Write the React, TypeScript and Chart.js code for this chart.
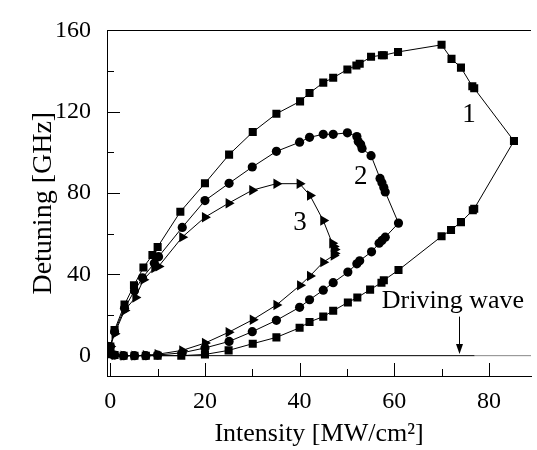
import React, { useEffect, useRef } from "react";
import { Chart, registerables } from "chart.js";

Chart.register(...registerables);

// Series 1 (squares)
const s1X = [0, 0, 0.9, 3.0, 5.0, 7.0, 8.9, 10.0, 14.8, 20.0, 25.1, 30.1, 35.1, 40.1, 42.1, 45.0, 47.1, 50.1, 52.0, 52.7, 55.1, 57.4, 57.8, 60.8, 70.0, 72.1, 74.1, 76.5, 76.9, 85.3, 76.9, 76.6, 74.1, 72.0, 70.0, 60.9, 57.8, 57.3, 54.9, 52.2, 50.2, 47.1, 45.0, 42.1, 40.0, 35.1, 30.1, 25.0, 20.0, 15.0, 10.0, 7.5, 5.1, 2.8, 0.9, 0];
const s1Y = [1, 4.5, 12.6, 25.1, 34.6, 43.4, 49.5, 53.5, 70.8, 84.8, 98.9, 110, 119, 125.1, 129.2, 134.3, 136.7, 140.8, 142.7, 143.6, 147, 147.8, 147.8, 149.4, 152.9, 146, 141.7, 132.5, 131.5, 105.6, 72.3, 71.5, 65.7, 61.8, 58.7, 42.1, 37.1, 35.9, 32.5, 28.6, 26.2, 22.1, 19.2, 16.6, 13.7, 9.0, 5.9, 2.6, 0.6, 0, 0, 0, 0, 0, 0.3, 1];

// Series 2 (circles)
const s2X = [0, 0, 0.9, 3.0, 5.1, 6.8, 9.3, 10.2, 15.2, 20.0, 25.1, 30.0, 35.1, 40.0, 42.1, 45.0, 47.1, 50.1, 52.1, 52.4, 52.9, 53.2, 55.1, 57.0, 57.4, 57.8, 58.1, 60.9, 58.1, 57.4, 56.8, 55.2, 52.7, 52.1, 50.2, 47.1, 45.0, 42.1, 40.0, 35.1, 30.0, 25.1, 20.0, 15.2, 10.0, 7.5, 5.1, 2.8, 0.9, 0];
const s2Y = [1, 4.5, 11.8, 23.3, 31.9, 38.3, 45.5, 48.7, 63.1, 76.3, 84.8, 92.8, 100.5, 105.0, 107.4, 108.9, 108.9, 109.6, 107.8, 105.4, 104, 101.9, 98.4, 87.2, 85.1, 82.7, 80.5, 65.2, 58.3, 56.7, 55.3, 51.1, 46.7, 45.2, 41.1, 35.9, 32.2, 27.5, 23.8, 17.4, 11.8, 7.0, 3.8, 1.4, 0.3, 0, 0, 0, 0.3, 1];

// Series 3 (triangles)
const s3X = [0, 0, 0.9, 3.0, 5.3, 7.0, 9.3, 10.2, 15.2, 20.0, 25.0, 30.0, 35.1, 40.0, 42.2, 45.0, 46.9, 47.2, 47.4, 47.4, 47.2, 45.0, 42.2, 40.1, 35.1, 30.1, 25.0, 20.0, 15.2, 10.0, 7.5, 5.1, 2.8, 0.9, 0];
const s3Y = [1, 4.5, 10.8, 22.2, 28.6, 37.4, 43.1, 43.9, 58.3, 68.1, 75.0, 81.4, 84.6, 84.6, 78.8, 66.5, 55.3, 53.7, 52.2, 50.3, 49.3, 46.0, 39.2, 34.6, 24.9, 17.7, 11.5, 6.2, 2.6, 0.7, 0.2, 0, 0, 0.3, 1];

// Driving wave (horizontal line at zero)
const driveX = [-0.7, 77, 88.9];
const driveY = [0, 0, 0];

// Axes
const xTicks = [0, 10, 20, 30, 40, 50, 60, 70, 80];
const yTicks = [0, 20, 40, 60, 80, 100, 120, 140, 160];
const xLabelStep = 20;
const yLabelStep = 40;

// Annotations (data coordinates)
const curveNames = ["1", "2", "3"];
const curveNameX = [75.8, 52.9, 40.1];
const curveNameY = [114.9, 84.5, 61.6];
const driveText = "Driving wave";
const driveTextX = 72.4;
const driveTextY = 23.5;
const arrowX = 73.7;
const arrowY = [19.2, 0.8];

const FONT = "'Liberation Serif', 'Times New Roman', serif";

const toPts = (xs: number[], ys: number[]) => xs.map((x, i) => ({ x, y: ys[i] }));

const framePlugin = {
  id: "frameAndNotes",
  afterDraw(chart: any) {
    const { ctx, chartArea: a, scales } = chart;
    const xs = scales.x;
    const ys = scales.y;
    ctx.save();
    ctx.strokeStyle = "#000";
    ctx.lineWidth = 1;
    ctx.beginPath();
    // top frame
    ctx.moveTo(a.left, Math.round(a.top) + 0.5);
    ctx.lineTo(a.right, Math.round(a.top) + 0.5);
    // inward ticks
    ys.ticks.forEach((t: any) => {
      const py = Math.round(ys.getPixelForValue(t.value)) + 0.5;
      const len = t.value % yLabelStep === 0 ? 13 : 7;
      ctx.moveTo(a.left, py);
      ctx.lineTo(a.left + len, py);
    });
    xs.ticks.forEach((t: any) => {
      const px = Math.round(xs.getPixelForValue(t.value)) + 0.5;
      const len = t.value % xLabelStep === 0 ? 13 : 7;
      ctx.moveTo(px, a.bottom);
      ctx.lineTo(px, a.bottom - len);
    });
    ctx.stroke();

    // arrow
    const ax = Math.round(xs.getPixelForValue(arrowX)) + 0.5;
    const ay0 = ys.getPixelForValue(arrowY[0]);
    const ay1 = ys.getPixelForValue(arrowY[1]);
    ctx.beginPath();
    ctx.moveTo(ax, ay0);
    ctx.lineTo(ax, ay1 - 8);
    ctx.stroke();
    ctx.fillStyle = "#000";
    ctx.beginPath();
    ctx.moveTo(ax, ay1);
    ctx.lineTo(ax - 3.5, ay1 - 10);
    ctx.lineTo(ax + 3.5, ay1 - 10);
    ctx.closePath();
    ctx.fill();

    // texts
    ctx.fillStyle = "#000";
    ctx.textAlign = "center";
    ctx.textBaseline = "alphabetic";
    ctx.font = `27px ${FONT}`;
    curveNames.forEach((n, i) => {
      ctx.fillText(n, xs.getPixelForValue(curveNameX[i]), ys.getPixelForValue(curveNameY[i]));
    });
    ctx.font = `26px ${FONT}`;
    ctx.fillText(driveText, xs.getPixelForValue(driveTextX), ys.getPixelForValue(driveTextY));
    ctx.restore();
  },
};

export default function App() {
  const ref = useRef<HTMLCanvasElement | null>(null);
  useEffect(() => {
    if (!ref.current) return;
    Chart.defaults.font.family = FONT;
    Chart.defaults.color = "#000";
    const common = {
      showLine: true,
      borderColor: "#000",
      backgroundColor: "#000",
      borderWidth: 1,
      pointBorderWidth: 0,
      pointBackgroundColor: "#000",
    };
    const chart = new Chart(ref.current, {
      type: "scatter",
      data: {
        datasets: [
          {
            ...common,
            label: "drive",
            data: toPts(driveX, driveY),
            pointRadius: 0,
            segment: {
              borderColor: (c: any) => (c.p0.parsed.x >= 77 ? "#888" : "#000"),
            },
          } as any,
          { ...common, label: "1", data: toPts(s1X, s1Y), pointStyle: "rect", pointRadius: 5.7 },
          { ...common, label: "2", data: toPts(s2X, s2Y), pointStyle: "circle", pointRadius: 4.6 },
          { ...common, label: "3", data: toPts(s3X, s3Y), pointStyle: "triangle", pointRotation: 90, pointRadius: 6 },
        ],
      },
      options: {
        animation: false,
        responsive: true,
        maintainAspectRatio: false,
        layout: { padding: { top: 22, right: 0, left: 0, bottom: 0 } },
        plugins: { legend: { display: false }, tooltip: { enabled: false } },
        scales: {
          x: {
            type: "linear",
            min: -0.7,
            max: 88.9,
            afterBuildTicks: (s: any) => {
              s.ticks = xTicks.map((v) => ({ value: v }));
            },
            afterFit: (s: any) => {
              s.height = 74;
            },
            grid: { display: false, drawTicks: false },
            border: { display: true, color: "#000", width: 1 },
            ticks: {
              font: { size: 24 },
              color: "#000",
              padding: 11,
              maxRotation: 0,
              autoSkip: false,
              callback: (v: any) => (Number(v) % xLabelStep === 0 ? String(v) : ""),
            },
            title: {
              display: true,
              text: "Intensity [MW/cm²]",
              font: { size: 26 },
              color: "#000",
              padding: { top: 0, bottom: 0 },
            },
          },
          y: {
            type: "linear",
            min: -10,
            max: 160,
            afterBuildTicks: (s: any) => {
              s.ticks = yTicks.map((v) => ({ value: v }));
            },
            afterFit: (s: any) => {
              s.width = 107;
            },
            grid: { display: false, drawTicks: false },
            border: { display: true, color: "#000", width: 1 },
            ticks: {
              font: { size: 24 },
              color: "#000",
              padding: 16,
              autoSkip: false,
              callback: (v: any) => (Number(v) % yLabelStep === 0 ? String(v) : ""),
            },
            title: {
              display: true,
              text: "Detuning [GHz]",
              font: { size: 28 },
              color: "#000",
              padding: { top: 27, bottom: 0 },
            },
          },
        },
      },
      plugins: [framePlugin],
    } as any);
    return () => chart.destroy();
  }, []);
  return (
    <div style={{ position: "absolute", left: 0, top: 0, width: 537, height: 450 }}>
      <canvas ref={ref} />
    </div>
  );
}
